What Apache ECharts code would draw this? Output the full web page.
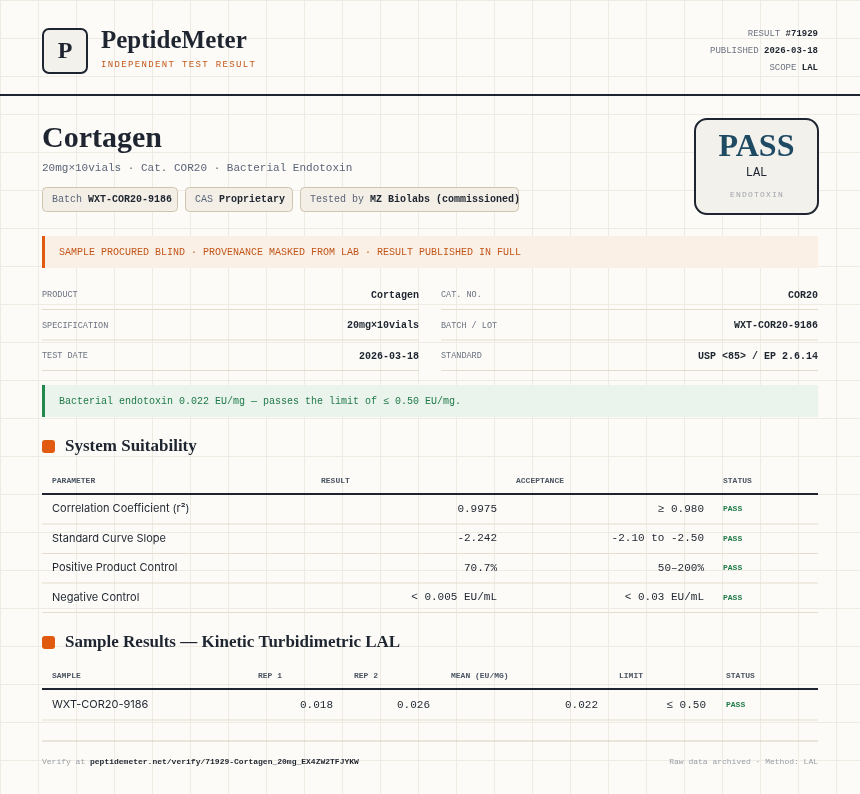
<!doctype html>
<html>
<head>
  <meta charset="utf-8">
  <script src="https://cdn.jsdelivr.net/npm/echarts@6/dist/echarts.min.js"></script>
  <style>
    html, body { width: 100%; height: 100%; margin: 0; background: #fcfbf7; }
    #main { width: 860px; height: 794px; }
  </style>
</head>
<body>
  <div id="main"></div>
  <script>
    // report data
    var metaLabels = ['RESULT', 'PUBLISHED', 'SCOPE'];
    var metaValues = ['#71929', '2026-03-18', 'LAL'];
    var chipLabels = ['Batch', 'CAS', 'Tested by'];
    var chipValues = ['WXT-COR20-9186', 'Proprietary', 'MZ Biolabs (commissioned)'];
    var infoLeftLabels = ['PRODUCT', 'SPECIFICATION', 'TEST DATE'];
    var infoLeftValues = ['Cortagen', '20mg\u00d710vials', '2026-03-18'];
    var infoRightLabels = ['CAT. NO.', 'BATCH / LOT', 'STANDARD'];
    var infoRightValues = ['COR20', 'WXT-COR20-9186', 'USP <85> / EP 2.6.14'];
    var suitHeaders = ['PARAMETER', 'RESULT', 'ACCEPTANCE', 'STATUS'];
    var suitParams = ['Correlation Coefficient (r\u00b2)', 'Standard Curve Slope', 'Positive Product Control', 'Negative Control'];
    var suitResults = ['0.9975', '-2.242', '70.7%', '< 0.005 EU/mL'];
    var suitAccept = ['\u2265 0.980', '-2.10 to -2.50', '50\u2013200%', '< 0.03 EU/mL'];
    var suitStatus = ['PASS', 'PASS', 'PASS', 'PASS'];
    var sampleHeaders = ['SAMPLE', 'REP 1', 'REP 2', 'MEAN (EU/MG)', 'LIMIT', 'STATUS'];
    var sampleRows = [['WXT-COR20-9186', '0.018', '0.026', '0.022', '\u2264 0.50', 'PASS']];

    var SERIF = '"Liberation Serif", serif';
    var MONO = '"Liberation Mono", monospace';
    var SANS = 'Inter, "Liberation Sans", sans-serif';
    var DARK = '#1e2530', GRAY = '#6b7280', ORANGE = '#c2561a', GREEN = '#1f7a48';

    var chart = echarts.init(document.getElementById('main'));
    var g = [];

    function txt(x, y, text, font, fill, align, extra) {
      var o = { type: 'text', x: x, y: y, silent: true,
        style: { text: text, font: font, fill: fill, textAlign: align || 'left', textVerticalAlign: 'middle' } };
      if (extra) Object.assign(o.style, extra);
      g.push(o);
    }
    // letter-spaced text, one glyph per step
    function spaced(x, y, text, font, fill, step, center) {
      if (center) x = x - (text.length - 1) * step / 2;
      for (var k = 0; k < text.length; k++) txt(x + k * step, y, text[k], font, fill, center ? 'center' : 'left');
    }
    function rect(x, y, w, h, fill, stroke, lw, r) {
      g.push({ type: 'rect', silent: true, shape: { x: x, y: y, width: w, height: h, r: r || 0 },
        style: { fill: fill, stroke: stroke || null, lineWidth: lw || 0 } });
    }
    function line(x1, y1, x2, y2, color, w) {
      g.push({ type: 'line', silent: true, shape: { x1: x1, y1: y1, x2: x2, y2: y2 },
        style: { stroke: color, lineWidth: w } });
    }
    function pair(x, y, label, value, size, align, labelColor) {
      g.push({ type: 'text', x: x, y: y, silent: true, style: {
        text: '{a|' + label + ' }{b|' + value + '}', textAlign: align || 'left', textVerticalAlign: 'middle',
        rich: { a: { font: size + 'px ' + MONO, fill: labelColor || GRAY },
                b: { font: 'bold ' + size + 'px ' + MONO, fill: DARK } } } });
    }

    // background grid
    for (var gx = 0; gx <= 860; gx += 38) line(gx + 0.5, 0, gx + 0.5, 794, '#eeebe3', 1);
    for (var gy = 0; gy <= 794; gy += 38) line(0, gy + 0.5, 860, gy + 0.5, '#eeebe3', 1);

    // header
    rect(43, 29, 44, 44, '#f3f1ec', DARK, 2, 6);
    txt(65, 52, 'P', 'bold 24px ' + SERIF, DARK, 'center');
    txt(101, 42, 'PeptideMeter', 'bold 25px ' + SERIF, DARK);
    spaced(101, 65, 'INDEPENDENT TEST RESULT', '9px ' + MONO, ORANGE, 6.75);
    for (var i = 0; i < metaLabels.length; i++) pair(818, 34 + i * 17, metaLabels[i], metaValues[i], 9, 'right');
    line(0, 95, 860, 95, DARK, 2);

    // title block
    txt(42, 139, 'Cortagen', 'bold 30px ' + SERIF, DARK);
    txt(42, 168, '20mg\u00d710vials \u00b7 Cat. COR20 \u00b7 Bacterial Endotoxin', '11px ' + MONO, '#5a6478');
    var chipX = [42, 185, 300], chipW = [135, 107, 218];
    for (i = 0; i < chipLabels.length; i++) {
      rect(chipX[i] + 0.5, 187.5, chipW[i], 24, '#f3efe6', '#cfc4ae', 1, 4);
      pair(chipX[i] + 10, 199.5, chipLabels[i], chipValues[i], 10, 'left', '#5a6478');
    }
    rect(695, 119, 123, 95, '#f3f1ec', DARK, 2, 12);
    txt(756.5, 148, 'PASS', 'bold 32px ' + SERIF, '#1e4a63', 'center');
    txt(756.5, 173, 'LAL', '12px ' + MONO, DARK, 'center');
    spaced(756.5, 195, 'ENDOTOXIN', '8px ' + MONO, '#a0a4ab', 6, true);

    // provenance banner
    rect(42, 236, 776, 32, '#fbf0e6');
    rect(42, 236, 3, 32, '#e05a10');
    txt(59, 252, 'SAMPLE PROCURED BLIND \u00b7 PROVENANCE MASKED FROM LAB \u00b7 RESULT PUBLISHED IN FULL', '10px ' + MONO, ORANGE);

    // info table
    for (i = 0; i < 3; i++) {
      var ry = 295 + i * 30.5, ly = 309.5 + i * 30.5;
      txt(42, ry, infoLeftLabels[i], '8.5px ' + MONO, GRAY);
      txt(419, ry, infoLeftValues[i], 'bold 10px ' + MONO, DARK, 'right');
      txt(441, ry, infoRightLabels[i], '8.5px ' + MONO, GRAY);
      txt(818, ry, infoRightValues[i], 'bold 10px ' + MONO, DARK, 'right');
      line(42, ly, 419, ly, '#e3dccd', 1);
      line(441, ly, 818, ly, '#e3dccd', 1);
    }

    // verdict banner
    rect(42, 385, 776, 32, '#eaf3ec');
    rect(42, 385, 3, 32, '#1f8a4c');
    txt(59, 401, 'Bacterial endotoxin 0.022 EU/mg \u2014 passes the limit of \u2264 0.50 EU/mg.', '10px ' + MONO, GREEN);

    // section: system suitability
    rect(42, 440, 13, 13, '#e05a10', null, 0, 3);
    txt(65, 447, 'System Suitability', 'bold 17px ' + SERIF, DARK);
    var suitX = [52, 321, 516, 723];
    for (i = 0; i < suitHeaders.length; i++) txt(suitX[i], 481, suitHeaders[i], 'bold 8px ' + MONO, '#4b5563');
    line(42, 494, 818, 494, DARK, 2);
    for (i = 0; i < suitParams.length; i++) {
      var y = 509 + i * 29.5;
      txt(52, y, suitParams[i], '11px ' + SANS, DARK);
      txt(497, y, suitResults[i], '11px ' + MONO, DARK, 'right');
      txt(704, y, suitAccept[i], '11px ' + MONO, DARK, 'right');
      txt(723, y, suitStatus[i], 'bold 8px ' + MONO, GREEN);
      line(42, y + 15, 818, y + 15, '#e6ddcc', 1);
    }

    // section: sample results
    rect(42, 636, 13, 13, '#e05a10', null, 0, 3);
    txt(65, 643, 'Sample Results \u2014 Kinetic Turbidimetric LAL', 'bold 17px ' + SERIF, DARK);
    var sampX = [52, 258, 354, 451, 619, 726];
    for (i = 0; i < sampleHeaders.length; i++) txt(sampX[i], 676, sampleHeaders[i], 'bold 8px ' + MONO, '#4b5563');
    line(42, 689, 818, 689, DARK, 2);
    var valRight = [333, 430, 598, 706];
    sampleRows.forEach(function (r, k) {
      var y = 705 + k * 30;
      txt(52, y, r[0], '11px ' + SANS, DARK);
      for (var c = 1; c <= 4; c++) txt(valRight[c - 1], y, r[c], '11px ' + MONO, DARK, 'right');
      txt(726, y, r[5], 'bold 8px ' + MONO, GREEN);
      line(42, y + 15, 818, y + 15, '#e6ddcc', 1);
    });

    // footer
    line(42, 741, 818, 741, '#d8cfbd', 1);
    pair(42, 762, 'Verify at', 'peptidemeter.net/verify/71929-Cortagen_20mg_EX4ZW2TFJYKW', 8, 'left', '#9aa0a8');
    txt(818, 762, 'Raw data archived \u00b7 Method: LAL', '8px ' + MONO, '#9aa0a8', 'right');

    chart.setOption({ animation: false, graphic: { elements: g } });
  </script>
</body>
</html>
